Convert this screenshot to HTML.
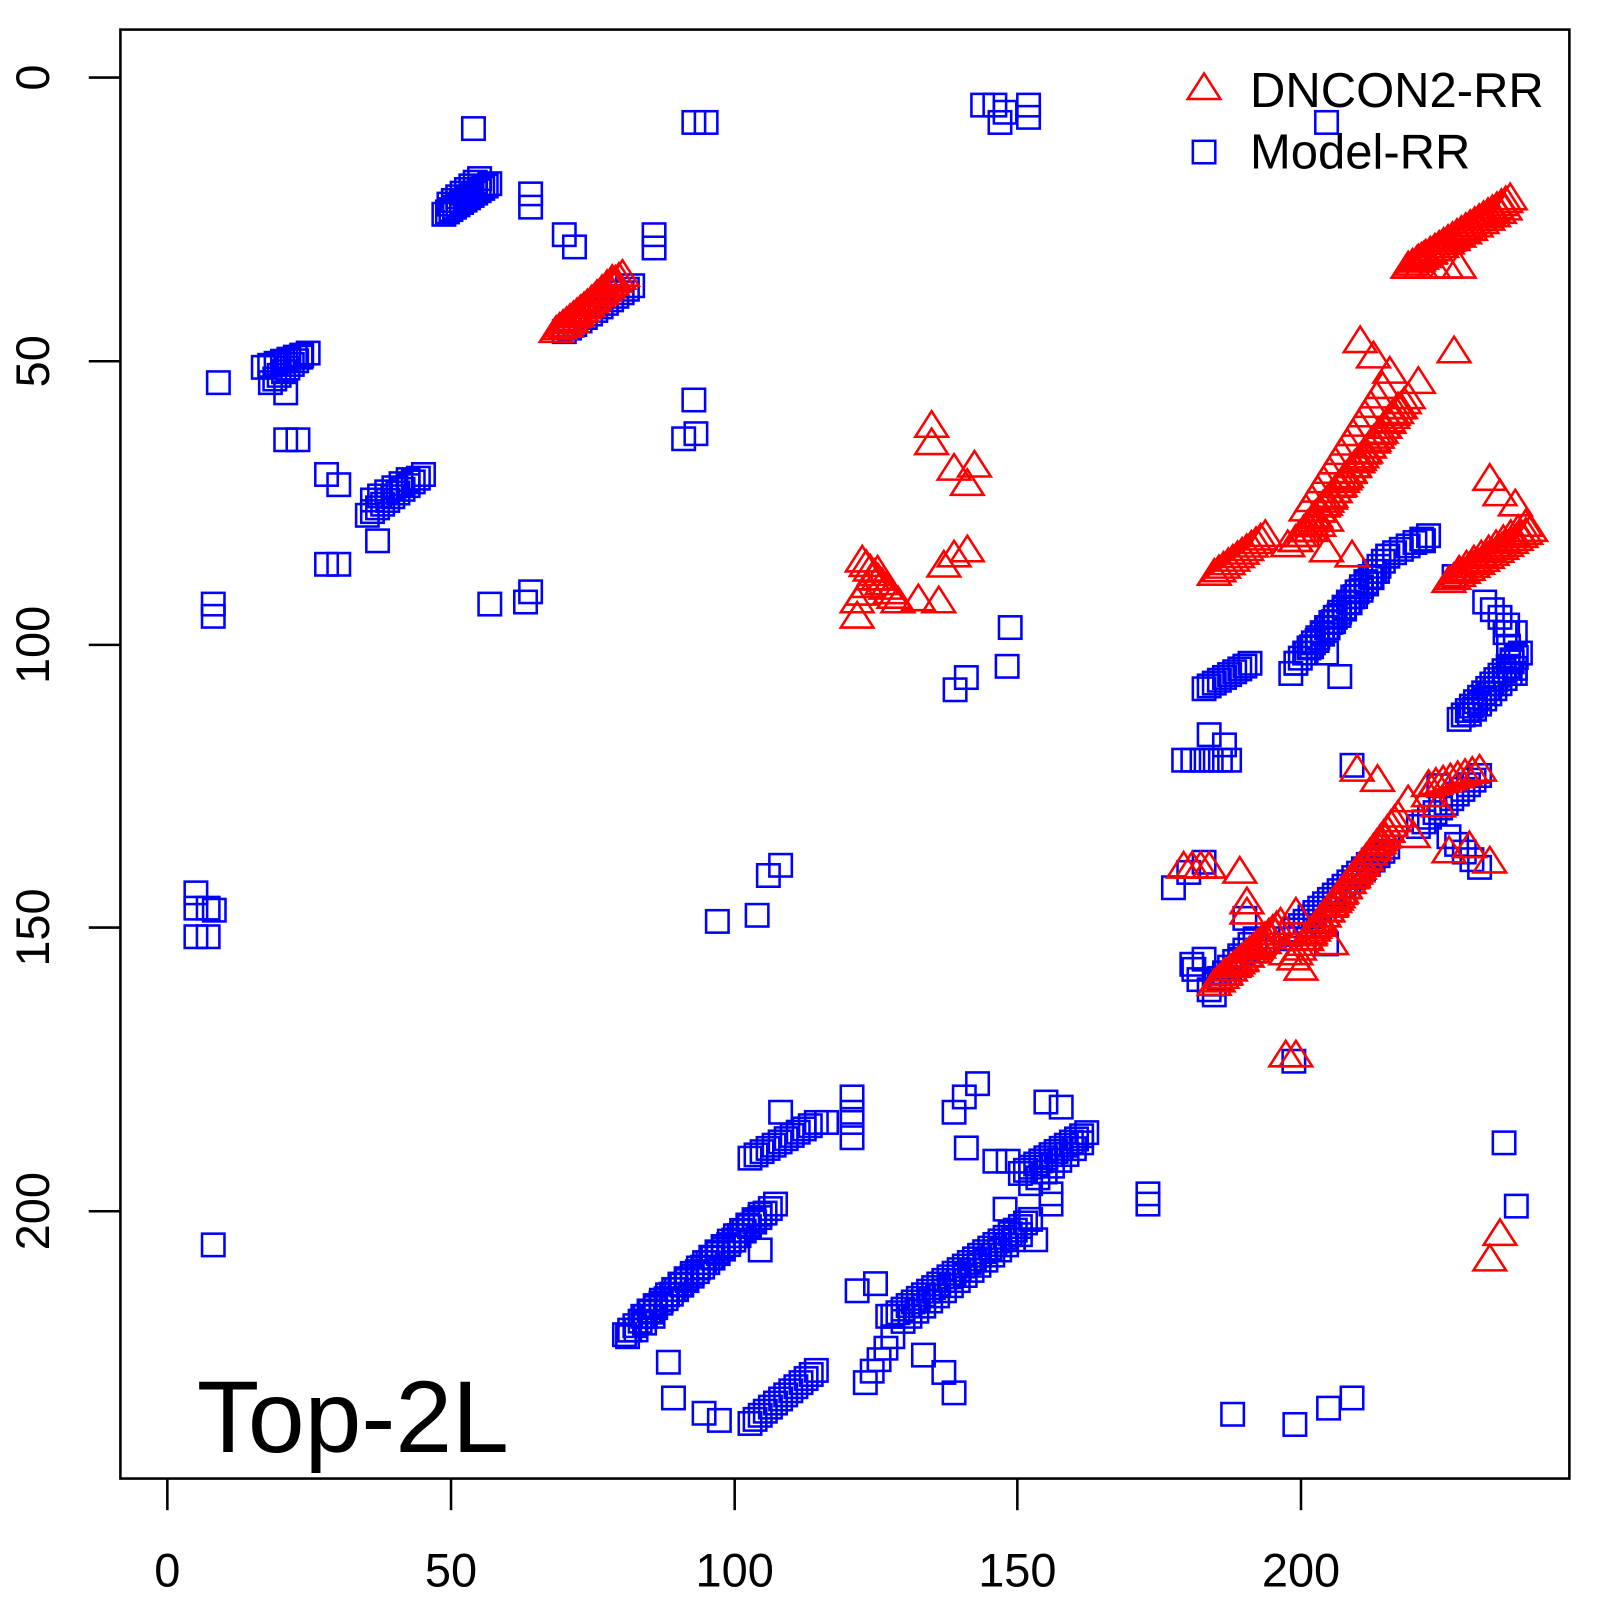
<!DOCTYPE html>
<html><head><meta charset="utf-8"><style>
html,body{margin:0;padding:0;background:#fff}
svg{display:block}
text{font-family:"Liberation Sans",Arial,sans-serif;fill:#000}
</style></head><body>
<svg id="s" width="1600" height="1600" viewBox="0 0 1600 1600" xmlns="http://www.w3.org/2000/svg">
<rect x="0" y="0" width="1600" height="1600" fill="#fff"/>
<g transform="scale(1.0204)">
<g id="pts"></g>
<rect x="118" y="29" width="1420" height="1420" fill="none" stroke="#000" stroke-width="2.5"/>
<g stroke="#000" stroke-width="2.5">
<line x1="164" y1="1449" x2="164" y2="1480"/><line x1="442" y1="1449" x2="442" y2="1480"/>
<line x1="720" y1="1449" x2="720" y2="1480"/><line x1="997" y1="1449" x2="997" y2="1480"/>
<line x1="1275" y1="1449" x2="1275" y2="1480"/>
<line x1="87" y1="76" x2="118" y2="76"/><line x1="87" y1="354" x2="118" y2="354"/>
<line x1="87" y1="632" x2="118" y2="632"/><line x1="87" y1="909" x2="118" y2="909"/>
<line x1="87" y1="1187" x2="118" y2="1187"/>
</g>
<g font-size="46" text-anchor="middle">
<text x="164" y="1555">0</text><text x="442" y="1555">50</text><text x="720" y="1555">100</text>
<text x="997" y="1555">150</text><text x="1275" y="1555">200</text>
<text transform="translate(48,76) rotate(-90)">0</text>
<text transform="translate(48,354) rotate(-90)">50</text>
<text transform="translate(48,632) rotate(-90)">100</text>
<text transform="translate(48,909) rotate(-90)">150</text>
<text transform="translate(48,1187) rotate(-90)">200</text>
</g>
<polygon points="1180,72 1196,97 1164,97" fill="none" stroke="#f00" stroke-width="2.5"/>
<rect x="1169" y="138" width="22" height="22" fill="none" stroke="#00f" stroke-width="2.5"/>
<text x="1225" y="105" font-size="48">DNCON2-RR</text>
<text x="1225" y="165" font-size="48">Model-RR</text>
<text x="193" y="1423" font-size="100">Top-2L</text>
</g>
</svg>
<script>
var g=document.getElementById('pts');var NS='http://www.w3.org/2000/svg';
var sq=[],tr=[];
function seg(a,x1,y1,x2,y2,n){for(var i=0;i<n;i++){var t=n==1?0:i/(n-1);a.push([x1+(x2-x1)*t,y1+(y2-y1)*t]);}}
function pts(a,l){for(var i=0;i<l.length;i+=2)a.push([l[i],l[i+1]]);}
pts(sq,[963,103,975,103,985,110,1008,103,1008,115,980,120,464,126,680,120,692,120,520,190,520,203,553,230,563,242,641,230,641,243,
280,385,214,375,280,431,292,431,320,465,332,475,370,530,320,553,332,553,480,592,515,590,520,580,209,592,209,604,680,392,670,430,682,425,
192,875,192,890,204,890,210,892,192,918,204,918,209,1220,703,903,742,897,753,858,765,848,745,1225,655,1335,660,1370,690,1385,705,1392,
765,1090,810,1100,840,1265,858,1258,870,1290,905,1328,925,1345,935,1365,935,1090,945,1075,958,1062,947,1125,975,1138,988,1138,
1025,1080,1040,1085,1030,1180,1030,1170,985,1185,1015,1215,1125,1170,1125,1180,1208,1386,1269,1396,1302,1380,1325,1370,1474,1120,1486,1182,
1150,870,1165,855,1180,845,1185,720,1313,663,1300,640,1395,530,1425,565,1300,120,1300,925,1325,750,1410,770,835,1075,835,1090,835,1100,835,1115,
1200,730,1175,960,1168,945,1190,975,1220,900,1215,940,1268,1040,1270,650,1265,660,990,615,987,653,936,676,947,664]);
seg(sq,435,210,480,180,14);seg(sq,440,200,470,175,8);
seg(sq,553,325,620,280,14);seg(sq,258,360,302,346,8);seg(sq,265,375,295,350,8);
seg(sq,360,505,415,465,12);seg(sq,365,490,400,470,6);
seg(sq,612,1308,760,1180,30);seg(sq,630,1290,745,1190,20);seg(sq,615,1310,640,1290,4);
seg(sq,735,1395,800,1343,14);seg(sq,735,1135,800,1100,12);
seg(sq,848,1355,875,1310,5);seg(sq,875,1290,1010,1195,28);seg(sq,885,1295,1000,1210,18);
seg(sq,1000,1150,1065,1110,14);seg(sq,1010,1160,1060,1120,8);
seg(sq,1160,745,1205,745,6);seg(sq,1180,675,1225,650,10);
seg(sq,1270,650,1360,545,22);seg(sq,1280,640,1350,560,14);seg(sq,1360,545,1400,525,7);
seg(sq,1455,590,1485,620,5);seg(sq,1430,705,1490,640,16);seg(sq,1440,700,1485,655,10);seg(sq,1475,620,1485,660,4);
seg(sq,1260,920,1360,830,22);seg(sq,1390,810,1450,760,12);seg(sq,1420,820,1450,850,5);
seg(sq,1185,970,1230,920,10);seg(sq,1170,950,1180,940,2);
seg(tr,545,325,610,270,20);seg(tr,555,320,600,275,10);
seg(tr,1380,262,1480,195,24);seg(tr,1390,255,1475,205,16);seg(tr,1380,262,1430,262,5);
pts(tr,[1333,335,1346,350,1362,365,1390,375,1425,345,1300,540,1325,545,1460,470,1470,485,1485,495,
913,418,913,435,935,460,955,457,948,475,840,605,900,588,920,590,925,555,935,545,948,540,
1215,855,1222,885,1222,895,1330,755,1350,765,1380,785,1410,790,1385,820,1400,780,1440,830,1460,845,1420,835,
1260,935,1268,940,1260,1035,1270,1035,1460,1235,1470,1210,1270,895,1305,925,1275,950]);
seg(tr,1270,530,1380,390,30);seg(tr,1280,520,1370,400,20);seg(tr,1262,535,1300,510,6);seg(tr,1280,500,1355,380,14);
seg(tr,1190,563,1240,525,12);seg(tr,1420,570,1500,520,18);seg(tr,1430,560,1495,515,10);
seg(tr,845,550,880,590,10);seg(tr,840,590,860,560,5);
seg(tr,1160,850,1185,850,4);
seg(tr,1190,965,1255,905,18);seg(tr,1200,955,1250,915,10);
seg(tr,1270,935,1370,800,30);seg(tr,1280,920,1360,815,20);
seg(tr,1400,770,1450,755,8);
function add(tag,attrs){var e=document.createElementNS(NS,tag);for(var k in attrs)e.setAttribute(k,attrs[k]);g.appendChild(e);}
sq.forEach(function(p){add('rect',{x:p[0]-11,y:p[1]-11,width:22,height:22,fill:'none',stroke:'#00f','stroke-width':2.5});});
tr.forEach(function(p){var x=p[0],y=p[1];add('polygon',{points:x+','+(y-15)+' '+(x+16)+','+(y+10)+' '+(x-16)+','+(y+10),fill:'none',stroke:'#f00','stroke-width':2.5});});
</script>
</body></html>
